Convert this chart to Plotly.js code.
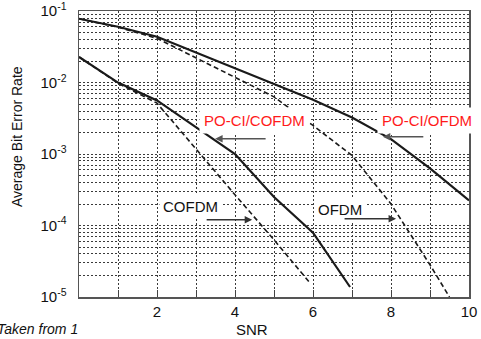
<!DOCTYPE html>
<html>
<head>
<meta charset="utf-8">
<script src="https://cdn.plot.ly/plotly-3.0.1.min.js"></script>
<style>html,body{margin:0;padding:0;background:#fff;}#chart{width:481px;height:339px;}</style>
</head>
<body>
<div id="chart"></div>
<script>
// Data
const snrOfdmPo = [0, 1, 2, 3, 4, 5, 6, 7, 8, 9, 10];
const berPoCiOfdm = [0.0782, 0.0603, 0.0437, 0.0263, 0.0158, 0.00955, 0.00575, 0.00324, 0.00162, 0.00063, 0.000224];

const snrOfdm = [0, 1, 2, 3, 4, 5, 6, 7, 8, 9, 9.5];
const berOfdm = [0.0782, 0.0595, 0.0415, 0.0222, 0.01175, 0.00631, 0.00251, 0.000955, 0.0002, 0.0000282, 0.00001];

const snrCofdmPo = [0, 1, 2, 3, 4, 5, 6, 6.95];
const berPoCiCofdm = [0.0228, 0.01, 0.00562, 0.0024, 0.001, 0.000251, 0.0000794, 0.0000138];

const snrCofdm = [0, 1, 2, 3, 4, 5, 5.92];
const berCofdm = [0.0228, 0.0098, 0.00515, 0.00117, 0.000269, 0.0000631, 0.0000158];

const xTickVals = [2, 4, 6, 8, 10];
const yTickVals = [1e-5, 1e-4, 1e-3, 1e-2, 1e-1];
const yTickText = ['10<sup>-5</sup>', '10<sup>-4</sup>', '10<sup>-3</sup>', '10<sup>-2</sup>', '10<sup>-1</sup>'];

// minor log grid values (2..9 in each decade)
const yMinor = [];
for (let e = -5; e < -1; e++) {
  for (let m = 2; m <= 9; m++) yMinor.push(m * Math.pow(10, e));
}

const FONT = 'Arial, "Liberation Sans", sans-serif';
const ink = '#1a1a1a';

const traces = [
  {x: snrOfdmPo, y: berPoCiOfdm, name: 'PO-CI/OFDM', mode: 'lines',
   line: {color: ink, width: 2.2}},
  {x: snrOfdm, y: berOfdm, name: 'OFDM', mode: 'lines',
   line: {color: ink, width: 1.6, dash: '5px,3px'}},
  {x: snrCofdmPo, y: berPoCiCofdm, name: 'PO-CI/COFDM', mode: 'lines',
   line: {color: ink, width: 2.2}},
  {x: snrCofdm, y: berCofdm, name: 'COFDM', mode: 'lines',
   line: {color: ink, width: 1.6, dash: '5px,3px'}}
];

const gridCol = '#3a3a3a';
const gridDash = '2px,2px';

const layout = {
  width: 481, height: 339,
  margin: {l: 79, r: 12, t: 11, b: 42},
  paper_bgcolor: '#fff', plot_bgcolor: '#fff',
  showlegend: false,
  font: {family: FONT, color: '#111', size: 15},
  xaxis: {
    range: [0, 10], tickmode: 'array', tickvals: xTickVals,
    ticks: 'inside', ticklen: 7, tickcolor: '#444', tickwidth: 1,
    showgrid: true, gridcolor: gridCol, griddash: gridDash, gridwidth: 1,
    minor: {dtick: 1, tick0: 0, ticks: 'inside', ticklen: 7, tickcolor: '#444',
            showgrid: true, gridcolor: gridCol, griddash: gridDash, gridwidth: 1},
    showline: true, linecolor: '#555', linewidth: 1.5, mirror: true,
    zeroline: false, tickfont: {size: 15, family: FONT, color: '#111'}
  },
  yaxis: {
    type: 'log', range: [-5, -0.999], tickmode: 'array',
    tickvals: yTickVals, ticktext: yTickText, ticklabeloverflow: 'allow',
    ticks: '', showgrid: true, gridcolor: gridCol, griddash: gridDash, gridwidth: 1,
    minor: {tickmode: 'array', tickvals: yMinor, ticks: '',
            showgrid: true, gridcolor: gridCol, griddash: gridDash, gridwidth: 1},
    showline: true, linecolor: '#555', linewidth: 1.5, mirror: true,
    zeroline: false, ticklabelstandoff: 8,
    tickfont: {size: 15, family: FONT, color: '#111'}
  },
  annotations: [
    // axis titles
    {xref: 'paper', yref: 'paper', x: (252 - 79) / 390, y: 0, xanchor: 'center', yanchor: 'middle',
     text: 'SNR', showarrow: false, font: {size: 15, family: FONT, color: '#111'}, yshift: -32},
    {xref: 'paper', yref: 'paper', x: 0, y: 0.5, xshift: -62, yshift: 17, xanchor: 'center', yanchor: 'middle',
     text: 'Average Bit Error Rate', textangle: -90, showarrow: false,
     font: {size: 14, family: FONT, color: '#111'}},
    {xref: 'paper', yref: 'paper', x: 0, y: 0, xanchor: 'right', yanchor: 'middle', yshift: -32, xshift: 1,
     text: '<i>Taken from 1</i>', showarrow: false, font: {size: 14, family: FONT, color: '#111'}},
    // curve labels
    {x: 4.51, y: -2.536, text: 'PO-CI/COFDM', showarrow: false, bgcolor: '#fff', borderpad: 4,
     font: {size: 15, family: FONT, color: '#ff1a1a'}},
    {x: 8.92, y: -2.536, text: 'PO-CI/OFDM', showarrow: false, bgcolor: '#fff', borderpad: 4,
     font: {size: 15, family: FONT, color: '#ff1a1a'}},
    {x: 2.85, y: -3.74, text: 'COFDM', showarrow: false, bgcolor: '#fff', borderpad: 3,
     font: {size: 15, family: FONT, color: '#111'}},
    {x: 6.69, y: -3.78, text: 'OFDM', showarrow: false, bgcolor: '#fff', borderpad: 3,
     font: {size: 15, family: FONT, color: '#111'}},
    // arrows
    {x: 3.49, y: -2.785, text: '', showarrow: true, ax: 52, ay: 0, arrowhead: 2, arrowsize: 1,
     arrowwidth: 1.5, arrowcolor: '#555'},
    {x: 7.79, y: -2.758, text: '', showarrow: true, ax: 42, ay: 0, arrowhead: 2, arrowsize: 1,
     arrowwidth: 1.5, arrowcolor: '#555'},
    {x: 4.44, y: -3.92, text: '', showarrow: true, ax: -47, ay: 0, arrowhead: 2, arrowsize: 1,
     arrowwidth: 1.5, arrowcolor: '#333'},
    {x: 8.13, y: -3.907, text: '', showarrow: true, ax: -53, ay: 0, arrowhead: 2, arrowsize: 1,
     arrowwidth: 1.5, arrowcolor: '#333'}
  ]
};

Plotly.newPlot('chart', traces, layout, {displayModeBar: false, staticPlot: true});
</script>
</body>
</html>
